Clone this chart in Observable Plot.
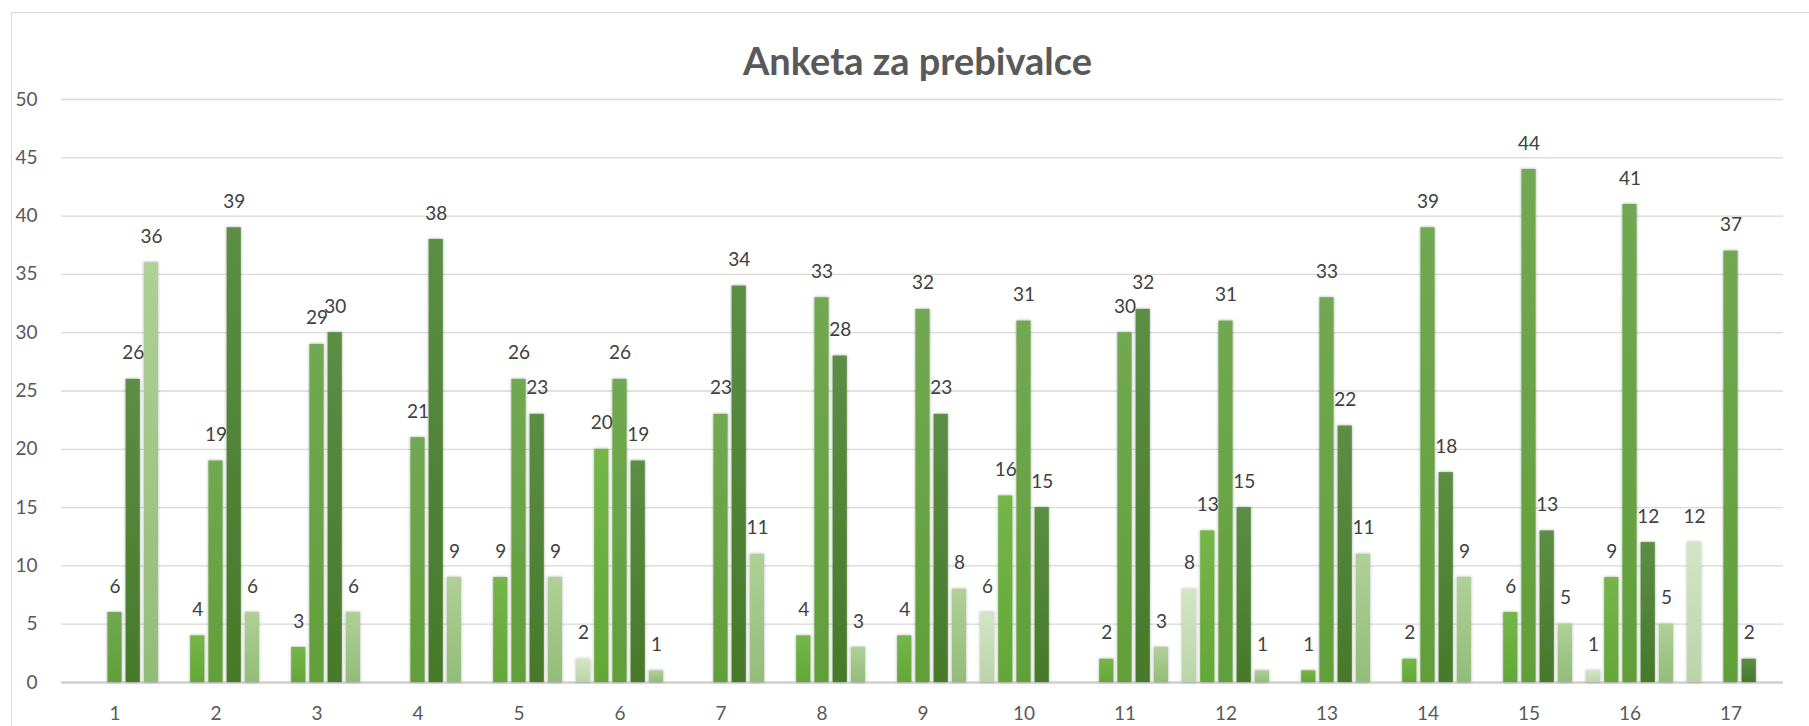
<!DOCTYPE html>
<html>
<head>
<meta charset="utf-8">
<script src="https://cdn.jsdelivr.net/npm/d3@7"></script>
<script src="https://cdn.jsdelivr.net/npm/@observablehq/plot@0.6"></script>
<style>
  body { margin: 0; background: #fff; font-family: Lato, "Open Sans", sans-serif; }
  #wrap { position: relative; width: 1809px; height: 726px; overflow: hidden; }
  #frame { position: absolute; left: 11px; top: 12px; width: 1900px; height: 900px;
           border-left: 1px solid #d9d9d9; border-top: 1px solid #d9d9d9; pointer-events: none; }
  #title { height: 84px; box-sizing: border-box; padding-top: 40px; padding-left: 26px;
           line-height: 40px; text-align: center; font-size: 38px; font-weight: bold; color: #595959; }
  #chart svg { display: block; }
</style>
</head>
<body>
<div id="wrap">
  <div id="frame"></div>
  <div id="title">Anketa za prebivalce</div>
  <div id="chart"></div>
</div>
<script>
const groups = ["1","2","3","4","5","6","7","8","9","10","11","12","13","14","15","16","17"];
const s1 = [0,0,0,0,0,2,0,0,0,6,0,8,0,0,0,1,12];
const s2 = [0,4,3,0,9,20,0,4,4,16,2,13,1,2,6,9,0];
const s3 = [6,19,29,21,26,26,23,33,32,31,30,31,33,39,44,41,37];
const s4 = [26,39,30,38,23,19,34,28,23,15,32,15,22,18,13,12,2];
const s5 = [36,6,6,9,9,1,11,3,8,0,3,1,11,9,5,5,0];
const yTicks = [0,5,10,15,20,25,30,35,40,45,50];

const series = [s1, s2, s3, s4, s5];
const gradColors = [
  ["#d3e5c7", "#bad4a8"],
  ["#74b649", "#63a737"],
  ["#71a852", "#619f39"],
  ["#5b8e44", "#477929"],
  ["#afd096", "#93bc79"]
];

const data = series.flatMap((arr, si) => arr.map((v, gi) => ({g: groups[gi], s: si, v})));

const W = 1809, H = 642;
const mL = 61, mR = 26, mT = 15, mB = 44;
const step = (W - mL - mR) / groups.length;
const slot = 18.2, barW = 14.5;
const inset = (step - barW) / 2;

const marks = [
  Plot.ruleY(yTicks.filter(t => t > 0), {stroke: "#d9d9d9", strokeWidth: 1.3}),
  Plot.ruleY([0], {stroke: "#d0d0d0", strokeWidth: 2.5}),
  Plot.axisY({ticks: yTicks, tickSize: 0, tickPadding: 24, fontSize: 19, label: null}),
  Plot.axisX({tickSize: 0, tickPadding: 24, fontSize: 19, label: null})
];
series.forEach((arr, si) => {
  const d = data.filter(r => r.s === si && r.v > 0);
  marks.push(Plot.barY(d, {x: "g", y: "v", dx: (si - 2) * slot, insetLeft: inset, insetRight: inset,
    fill: `url(#grad${si})`}));
});
series.forEach((arr, si) => {
  const d = data.filter(r => r.s === si && r.v > 0);
  marks.push(Plot.text(d, {x: "g", y: "v", text: r => String(r.v), dx: (si - 2) * slot, dy: -26,
    fontSize: 19, fill: "#404040"}));
});

const svg = Plot.plot({
  width: W, height: H,
  marginLeft: mL, marginRight: mR, marginTop: mT, marginBottom: mB,
  style: {fontFamily: "Lato, 'Open Sans', sans-serif", color: "#595959", background: "transparent"},
  x: {type: "band", domain: groups, padding: 0},
  y: {domain: [0, 50]},
  marks
});

const s = d3.select(svg);
const defs = s.insert("defs", ":first-child");
gradColors.forEach((c, i) => {
  const g = defs.append("linearGradient").attr("id", `grad${i}`)
    .attr("x1", 0).attr("y1", 0).attr("x2", 0).attr("y2", 1);
  g.append("stop").attr("offset", "0%").attr("stop-color", c[0]);
  g.append("stop").attr("offset", "100%").attr("stop-color", c[1]);
});
const f = defs.append("filter").attr("id", "shadow")
  .attr("x", "-50%").attr("y", "-10%").attr("width", "200%").attr("height", "120%");
f.append("feDropShadow").attr("dx", 0).attr("dy", 0).attr("stdDeviation", 1.6)
  .attr("flood-color", "#000").attr("flood-opacity", 0.35);
s.selectAll('g[aria-label="bar"]').attr("filter", "url(#shadow)");

document.getElementById("chart").appendChild(svg);
</script>
</body>
</html>
